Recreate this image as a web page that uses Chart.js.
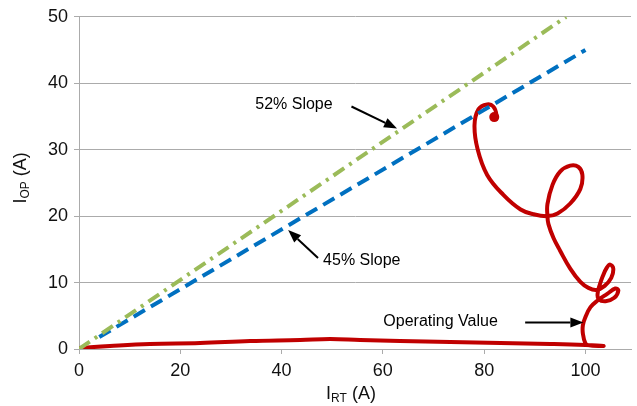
<!DOCTYPE html>
<html>
<head>
<meta charset="utf-8">
<script src="https://cdn.jsdelivr.net/npm/chart.js@4"></script>
<style>
  body { margin: 0; background: #fff; }
  #wrap { width: 637px; height: 406px; position: relative; }
</style>
</head>
<body>
<div id="wrap"><canvas id="relayChart"></canvas></div>
<script>
// Operating trajectory (IRT, IOP) in amps
const opIrt = [0, 6.1, 14, 23.9, 33.8, 43.7, 49.6, 55.5, 63.4, 73.3, 83.2, 93.1, 100, 103.6, 100.6,
    100, 99.5, 99.5, 100, 101, 102.4, 104.3, 105.9, 106.5, 105.7, 104, 102.6, 102.4, 102.8, 103.4, 104.2,
    104.9, 105.5, 105.1, 103.8, 102.2, 100.6, 99, 97, 95, 93.7, 92.7, 92.5, 92.5, 93.5, 95, 97, 98.6, 99.4, 99, 97,
    94.5, 92.5, 89.7, 87.2, 83.8, 80.6, 78.7, 78.1, 78.9, 80.6, 81.8, 82.4, 82];
const opIop = [0.15, 0.45, 0.75, 0.9, 1.2, 1.35, 1.5, 1.35, 1.2, 1.05, 0.9, 0.75, 0.6, 0.45, 0.55,
    0.85, 2.3, 3.6, 4.8, 6.3, 7.3, 8.3, 9.1, 8.8, 7.7, 7.2, 7.5, 8.3, 9.6, 10.9, 12.2,
    12.7, 12.1, 10.7, 9.5, 8.9, 9.2, 10.1, 12.1, 14.8, 16.7, 18.8, 20, 21.8, 24.7, 26.7, 27.6, 27.4, 26.2, 24.1, 21.9,
    20.4, 20, 20.3, 21, 23.2, 26.2, 30.1, 33.7, 36.1, 36.8, 36.5, 35.3, 34.9];

// slope characteristics
const slope52Irt = [0, 96.2];
const slope52Iop = [0, 50];
const slope45Irt = [4, 100];
const slope45Iop = [1.8, 45];

// tick values
const xTicks = [0, 20, 40, 60, 80, 100];
const yTicks = [0, 10, 20, 30, 40, 50];

// callouts: text anchor and arrow tail -> tip, all in data units
const noteText = ['52% Slope', '45% Slope', 'Operating Value'];
const noteAt = [[34.8, 36.8], [48.2, 13.3], [60.1, 4.2]];
const arrowFrom = [[53.8, 36.5], [47.2, 13.7], [88.1, 4.0]];
const arrowTo = [[62.8, 33.2], [41.3, 17.9], [99.6, 4.0]];

const FONT = '"Liberation Sans", Arial, sans-serif';
const GRID = '#ababab';

function toPoints(xs, ys) {
    return xs.map((v, i) => ({ x: v, y: ys[i] }));
}

// arrows and labels
const notesPlugin = {
    id: 'notes',
    afterDatasetsDraw(chart) {
        const { ctx, scales: { x, y } } = chart;
        ctx.save();
        ctx.font = '16px ' + FONT;
        ctx.fillStyle = '#000';
        ctx.textBaseline = 'middle';
        ctx.textAlign = 'left';
        noteText.forEach((t, i) => {
            ctx.fillText(t, x.getPixelForValue(noteAt[i][0]), y.getPixelForValue(noteAt[i][1]));

            const x0 = x.getPixelForValue(arrowFrom[i][0]);
            const y0 = y.getPixelForValue(arrowFrom[i][1]);
            const x1 = x.getPixelForValue(arrowTo[i][0]);
            const y1 = y.getPixelForValue(arrowTo[i][1]);
            const ang = Math.atan2(y1 - y0, x1 - x0);
            const headLen = 13, headW = 5;
            const bx = x1 - headLen * Math.cos(ang);
            const by = y1 - headLen * Math.sin(ang);

            ctx.strokeStyle = '#000';
            ctx.lineWidth = 2;
            ctx.beginPath();
            ctx.moveTo(x0, y0);
            ctx.lineTo(bx, by);
            ctx.stroke();

            ctx.beginPath();
            ctx.moveTo(x1, y1);
            ctx.lineTo(bx + headW * Math.sin(ang), by - headW * Math.cos(ang));
            ctx.lineTo(bx - headW * Math.sin(ang), by + headW * Math.cos(ang));
            ctx.closePath();
            ctx.fill();
        });
        ctx.restore();
    }
};

// axis titles with subscripts
function drawSubTitle(ctx, main, sub, rest) {
    ctx.font = '18px ' + FONT;
    const w1 = ctx.measureText(main).width;
    const w3 = ctx.measureText(rest).width;
    ctx.font = '12px ' + FONT;
    const w2 = ctx.measureText(sub).width;
    let px = -(w1 + w2 + w3) / 2;
    ctx.textBaseline = 'alphabetic';
    ctx.textAlign = 'left';
    ctx.font = '18px ' + FONT;
    ctx.fillText(main, px, 6);
    px += w1;
    ctx.font = '12px ' + FONT;
    ctx.fillText(sub, px, 9);
    px += w2;
    ctx.font = '18px ' + FONT;
    ctx.fillText(rest, px, 6);
}

const titlesPlugin = {
    id: 'titles',
    afterDraw(chart) {
        const { ctx, chartArea } = chart;
        ctx.save();
        ctx.fillStyle = '#111';
        ctx.translate((chartArea.left + chartArea.right) / 2 - 4, chart.height - 13);
        drawSubTitle(ctx, 'I', 'RT', ' (A)');
        ctx.restore();

        ctx.save();
        ctx.fillStyle = '#111';
        ctx.translate(20, (chartArea.top + chartArea.bottom) / 2 - 5);
        ctx.rotate(-Math.PI / 2);
        drawSubTitle(ctx, 'I', 'OP', ' (A)');
        ctx.restore();
    }
};

new Chart(document.getElementById('relayChart'), {
    type: 'scatter',
    data: {
        datasets: [
            {
                label: '52% Slope',
                data: toPoints(slope52Irt, slope52Iop),
                showLine: true,
                borderColor: '#9bbb59',
                borderWidth: 4,
                borderDash: [13, 6, 3, 6],
                pointRadius: 0
            },
            {
                label: '45% Slope',
                data: toPoints(slope45Irt, slope45Iop),
                showLine: true,
                borderColor: '#0070c0',
                borderWidth: 4,
                borderDash: [13, 7],
                pointRadius: 0
            },
            {
                label: 'Operating Value',
                data: toPoints(opIrt, opIop),
                showLine: true,
                borderColor: '#c00000',
                backgroundColor: '#c00000',
                borderWidth: 4,
                tension: 0.4,
                pointRadius: c => (c.dataIndex === opIrt.length - 1 ? 5 : 0),
                pointBorderWidth: 0
            }
        ]
    },
    options: {
        responsive: true,
        maintainAspectRatio: false,
        animation: false,
        layout: { padding: { top: 13, right: 6, bottom: 0, left: 0 } },
        plugins: {
            legend: { display: false },
            tooltip: { enabled: false }
        },
        scales: {
            x: {
                type: 'linear',
                min: 0,
                max: 109,
                afterFit: s => { s.height = 57; },
                afterBuildTicks: s => { s.ticks = xTicks.map(v => ({ value: v })); },
                grid: { drawOnChartArea: false, drawTicks: true, tickLength: 5, color: GRID },
                border: { color: GRID },
                ticks: { padding: 6, color: '#111', font: { family: FONT, size: 18 } }
            },
            y: {
                type: 'linear',
                min: 0,
                max: 50,
                afterFit: s => { s.width = 79; },
                afterBuildTicks: s => { s.ticks = yTicks.map(v => ({ value: v })); },
                grid: { color: GRID, tickLength: 5 },
                border: { color: GRID },
                ticks: { padding: 6, color: '#111', font: { family: FONT, size: 18 } }
            }
        }
    },
    plugins: [notesPlugin, titlesPlugin]
});
</script>
</body>
</html>
